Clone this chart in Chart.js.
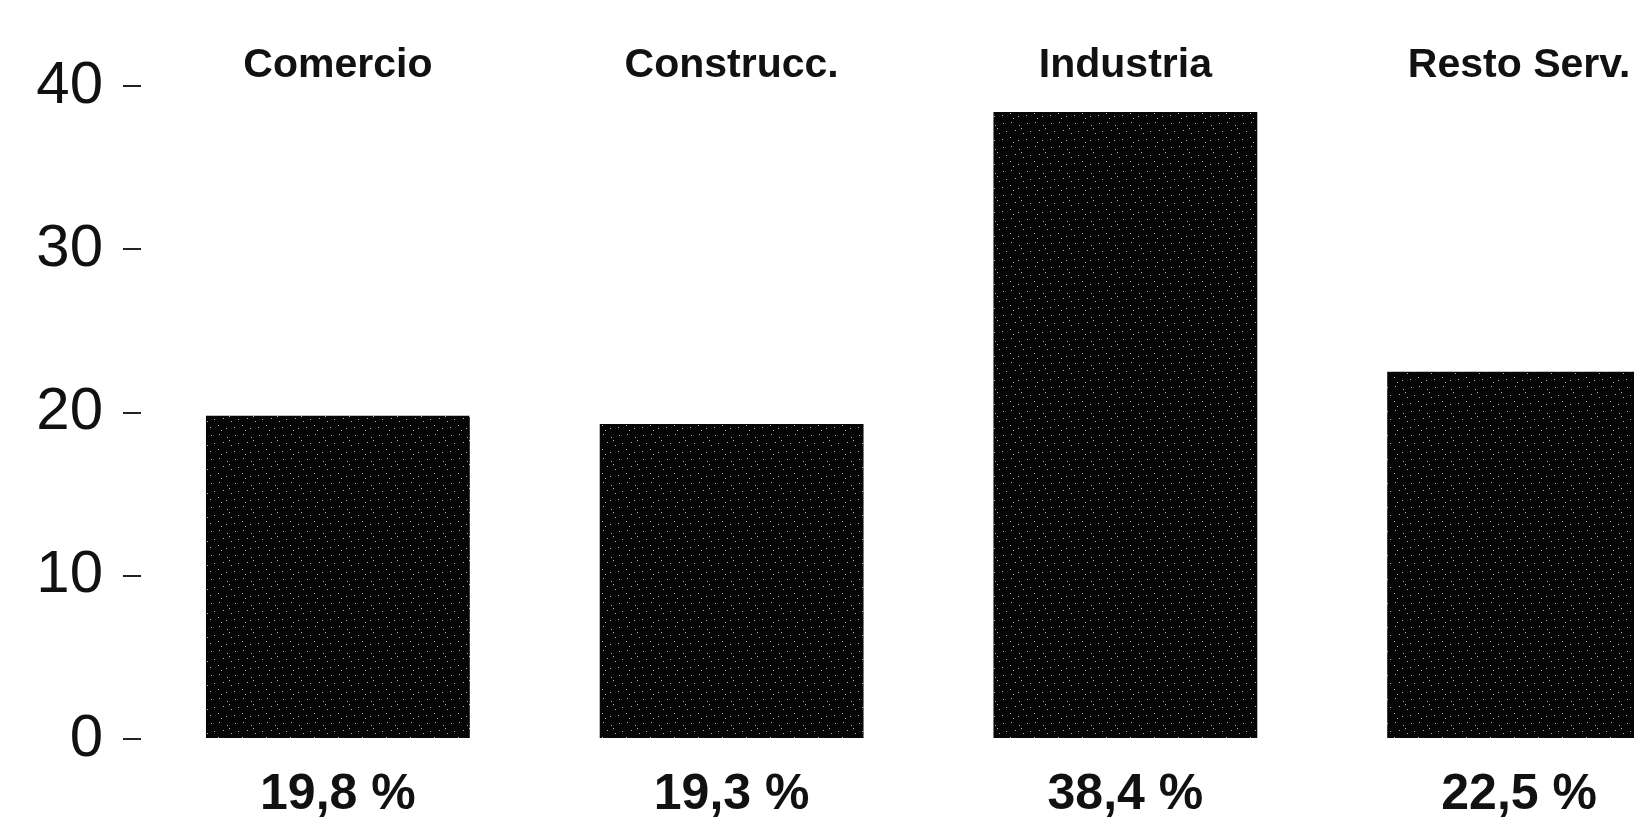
<!DOCTYPE html>
<html>
<head>
<meta charset="utf-8">
<script src="https://cdn.jsdelivr.net/npm/chart.js@4.4.1/dist/chart.umd.min.js"></script>
<style>
  html, body { margin: 0; padding: 0; background: #fff; overflow: hidden; }
  #wrap { width: 1634px; height: 817px; overflow: hidden; }
</style>
</head>
<body>
<div id="wrap">
  <!-- wider than the window: the last bar is cut at the right edge like the scan -->
  <canvas id="sectorChart" width="1716" height="817"></canvas>
</div>
<script>
// data
const categories = ['Comercio', 'Construcc.', 'Industria', 'Resto Serv.'];
const shares = [19.8, 19.3, 38.4, 22.5];
const yTicks = [0, 10, 20, 30, 40];

// labels under the bars, Spanish decimal comma
const shareLabels = shares.map(v => v.toFixed(1).replace('.', ',') + ' %');

// black fill with a few light specks, like the printed screen
const tile = document.createElement('canvas');
tile.width = 24;
tile.height = 24;
const tctx = tile.getContext('2d');
tctx.fillStyle = '#050505';
tctx.fillRect(0, 0, 24, 24);
tctx.fillStyle = '#b8b8b8';
[[3, 2], [11, 5], [19, 3], [7, 10], [15, 13], [22, 11], [2, 17], [10, 20], [18, 19], [13, 8], [5, 22]]
  .forEach(([x, y]) => tctx.fillRect(x, y, 1, 1));
const speckle = tctx.createPattern(tile, 'repeat');

const FONT = "'Liberation Sans', Arial, Helvetica, sans-serif";

const ctx = document.getElementById('sectorChart').getContext('2d');
new Chart(ctx, {
  type: 'bar',
  data: {
    labels: shareLabels,
    datasets: [{
      data: shares,
      backgroundColor: speckle,
      borderWidth: 0,
      barPercentage: 0.67,
      categoryPercentage: 1.0
    }]
  },
  options: {
    responsive: false,
    animation: false,
    devicePixelRatio: 1,
    layout: { padding: 0 },
    plugins: {
      legend: { display: false },
      tooltip: { enabled: false }
    },
    scales: {
      x: {
        position: 'bottom',
        grid: { display: false },
        border: { display: false },
        ticks: {
          color: '#111',
          padding: 18,
          maxRotation: 0,
          font: { family: FONT, size: 50, weight: 'bold' }
        },
        afterFit: (scale) => { scale.height = 78; }
      },
      xTop: {
        type: 'category',
        labels: categories,
        position: 'top',
        grid: { display: false },
        border: { display: false },
        ticks: {
          color: '#111',
          padding: -12,
          maxRotation: 0,
          font: { family: FONT, size: 41, weight: 'bold' }
        },
        afterFit: (scale) => { scale.height = 86; }
      },
      y: {
        min: 0,
        max: 40,
        grid: {
          drawOnChartArea: false,
          color: '#222',
          lineWidth: 2,
          tickLength: 18
        },
        border: { display: false },
        ticks: {
          color: '#111',
          padding: 20,
          font: { family: FONT, size: 60 }
        },
        afterBuildTicks: (scale) => { scale.ticks = yTicks.map(v => ({ value: v })); },
        afterFit: (scale) => { scale.width = 141; }
      }
    }
  }
});
</script>
</body>
</html>
